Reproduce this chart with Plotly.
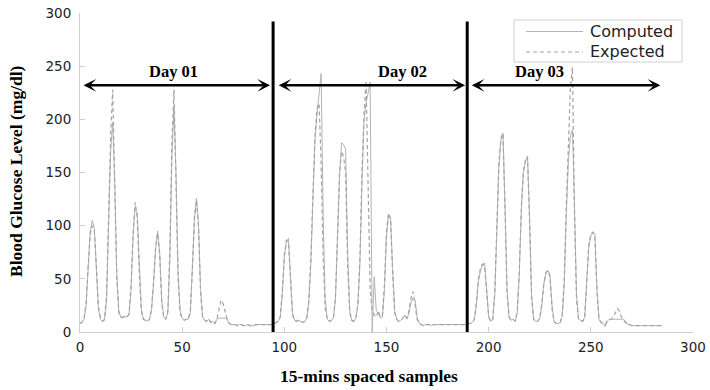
import plotly.graph_objects as go

# Blood glucose readings, one value every 15 minutes, three days in a row
day1_computed = [8, 9, 12, 25, 60, 95, 105, 98, 60, 22, 12, 10, 11, 30, 100, 170, 197, 140, 55, 20,
                 14, 13, 15, 14, 16, 40, 90, 118, 112, 60, 22, 12, 11, 10, 12, 20, 45, 78, 95, 75,
                 30, 14, 12, 18, 70, 165, 212, 150, 55, 20, 13, 11, 12, 12, 18, 55, 105, 126, 102, 40,
                 14, 11, 10, 12, 9, 10, 8, 12, 13, 13, 13, 13, 12, 8, 7, 7, 7, 6, 7, 7,
                 6, 6, 7, 6, 6, 6, 7, 7, 7, 7, 7, 7, 7, 7, 7]
day1_expected = [8, 9, 13, 28, 62, 92, 100, 96, 62, 24, 13, 10, 12, 35, 110, 185, 228, 135, 50, 18,
                 14, 14, 15, 14, 17, 45, 95, 122, 108, 55, 20, 12, 11, 10, 12, 22, 48, 80, 93, 72,
                 28, 14, 12, 20, 80, 180, 228, 140, 50, 18, 13, 11, 12, 12, 20, 58, 108, 124, 98, 38,
                 14, 11, 10, 12, 9, 10, 8, 12, 20, 30, 27, 19, 12, 8, 7, 7, 7, 6, 7, 7,
                 6, 6, 7, 6, 6, 6, 7, 7, 7, 7, 7, 7, 7, 7, 7]

day2_computed = [8, 9, 10, 14, 35, 70, 85, 88, 55, 18, 11, 10, 11, 10, 9, 10, 13, 28, 65, 125,
                 180, 205, 225, 243, 110, 30, 12, 10, 11, 13, 30, 85, 145, 178, 176, 172, 75, 20, 11, 10,
                 13, 25, 65, 140, 200, 215, 225, 235, 0, 52, 20, 18, 13, 14, 40, 90, 110, 108, 60, 20,
                 12, 10, 11, 13, 16, 12, 18, 28, 32, 30, 14, 8, 7, 6, 7, 7, 7, 6, 7, 7,
                 7, 7, 7, 7, 7, 7, 7, 7, 7, 7, 7, 7, 7, 7, 7]
day2_expected = [8, 9, 10, 14, 38, 72, 86, 85, 50, 16, 11, 10, 11, 10, 9, 10, 14, 30, 70, 130,
                 185, 210, 215, 160, 70, 22, 12, 10, 11, 13, 32, 88, 150, 170, 165, 150, 60, 18, 11, 10,
                 13, 26, 70, 150, 205, 236, 130, 40, 20, 16, 14, 20, 14, 15, 45, 95, 112, 105, 55, 18,
                 12, 10, 11, 13, 16, 13, 20, 32, 38, 25, 12, 8, 7, 6, 7, 7, 7, 6, 7, 7,
                 7, 7, 7, 7, 7, 7, 7, 7, 7, 7, 7, 7, 7, 7, 7]

day3_computed = [8, 8, 9, 12, 25, 48, 58, 63, 65, 40, 15, 10, 12, 35, 95, 155, 180, 187, 120, 40,
                 14, 11, 12, 10, 18, 55, 115, 150, 160, 165, 110, 35, 12, 10, 10, 13, 25, 45, 55, 58,
                 54, 25, 10, 8, 8, 9, 15, 45, 110, 160, 185, 190, 120, 35, 12, 11, 10, 14, 45, 80,
                 90, 94, 92, 40, 12, 9, 8, 5, 10, 12, 12, 12, 12, 12, 12, 12, 12, 10, 7, 7,
                 6, 6, 6, 6, 6, 6, 6, 6, 6, 6, 6, 6, 6, 6, 6, 6]
day3_expected = [8, 8, 9, 12, 28, 50, 60, 64, 62, 36, 14, 10, 12, 38, 100, 160, 182, 187, 115, 36,
                 14, 11, 12, 10, 20, 58, 118, 152, 162, 165, 105, 32, 12, 10, 10, 13, 26, 46, 56, 58,
                 52, 22, 10, 8, 8, 9, 16, 50, 120, 180, 230, 249, 110, 30, 12, 11, 10, 14, 48, 82,
                 92, 94, 90, 38, 12, 9, 8, 7, 10, 12, 12, 14, 18, 22, 20, 14, 11, 9, 7, 7,
                 6, 6, 6, 6, 6, 6, 6, 6, 6, 6, 6, 6, 6, 6, 6, 6]

computed = day1_computed + day2_computed + day3_computed
expected = day1_expected + day2_expected + day3_expected
samples = list(range(len(computed)))

# day boundaries (vertical separators) and the span each "Day" arrow covers
day_bounds = [94.5, 189.5]
day_labels = ["Day 01", "Day 02", "Day 03"]
day_spans = [(1, 93), (96.5, 188.5), (191, 284)]
day_label_x = [46, 158, 225]
arrow_level = 232

x_ticks = [0, 50, 100, 150, 200, 250, 300]
y_ticks = [0, 50, 100, 150, 200, 250, 300]

W, H = 710, 390
L, R, T, B = 80, 17, 13, 58
PW, PH = W - L - R, H - T - B


def px(xp):
    return (xp - L) / PW


def py(yp):
    return (H - B - yp) / PH


SERIF = "Liberation Serif"
SANS = "DejaVu Sans"
C_COMP = "#b3b3b3"
C_EXP = "#a3a3a3"

fig = go.Figure()
fig.add_trace(go.Scatter(x=samples, y=computed, name="Computed", mode="lines",
                         line=dict(color=C_COMP, width=1), showlegend=False))
fig.add_trace(go.Scatter(x=samples, y=expected, name="Expected", mode="lines",
                         line=dict(color=C_EXP, width=1.2, dash="4px,3px"), showlegend=False))

shapes = []
for xb in day_bounds:
    shapes.append(dict(type="line", xref="x", yref="y", x0=xb, x1=xb, y0=0, y1=292,
                       line=dict(color="black", width=3)))

# legend box and samples
shapes.append(dict(type="rect", xref="paper", yref="paper",
                   x0=px(514), x1=px(682), y0=py(62), y1=py(20),
                   line=dict(color="#d0d0d0", width=1), fillcolor="white", layer="above"))
shapes.append(dict(type="line", xref="paper", yref="paper",
                   x0=px(526), x1=px(583), y0=py(31.5), y1=py(31.5),
                   line=dict(color=C_COMP, width=1), layer="above"))
shapes.append(dict(type="line", xref="paper", yref="paper",
                   x0=px(526), x1=px(583), y0=py(52), y1=py(52),
                   line=dict(color=C_EXP, width=1.2, dash="4px,3px"), layer="above"))

annotations = []
for (a, b), lab, lx in zip(day_spans, day_labels, day_label_x):
    annotations.append(dict(x=b, y=arrow_level, ax=a, ay=arrow_level, xref="x", yref="y",
                            axref="x", ayref="y", text="", showarrow=True,
                            arrowhead=3, startarrowhead=3, arrowside="end+start",
                            arrowsize=0.85, startarrowsize=0.85, arrowwidth=2.5,
                            arrowcolor="black"))
    annotations.append(dict(x=lx, y=arrow_level, xref="x", yref="y", text=lab,
                            showarrow=False, yanchor="bottom", yshift=2,
                            font=dict(family=SERIF, size=16.5, color="black", weight="bold")))

annotations.append(dict(x=px(588), y=py(31.5), xref="paper", yref="paper", text="Computed",
                        showarrow=False, xanchor="left", yanchor="middle",
                        font=dict(family=SANS, size=16, color="#222")))
annotations.append(dict(x=px(588), y=py(52), xref="paper", yref="paper", text="Expected",
                        showarrow=False, xanchor="left", yanchor="middle",
                        font=dict(family=SANS, size=16, color="#222")))

annotations.append(dict(x=px(16), y=py(171), xref="paper", yref="paper",
                        text="Blood Glucose Level (mg/dl)", textangle=-90, showarrow=False,
                        xanchor="center", yanchor="middle",
                        font=dict(family=SERIF, size=17.5, color="black", weight="bold")))
annotations.append(dict(x=px(369), y=py(376), xref="paper", yref="paper",
                        text="15-mins spaced samples", showarrow=False,
                        xanchor="center", yanchor="middle",
                        font=dict(family=SERIF, size=17.5, color="black", weight="bold")))

axis_common = dict(showgrid=False, zeroline=False, showline=True, linecolor="#cfcfcf",
                   linewidth=1, ticks="inside", ticklen=5, tickcolor="#cfcfcf",
                   tickfont=dict(family=SANS, size=13.5, color="#222"), mirror=False,
                   automargin=False)

fig.update_layout(
    width=W, height=H,
    margin=dict(l=L, r=R, t=T, b=B, pad=0, autoexpand=False),
    paper_bgcolor="white", plot_bgcolor="white",
    xaxis=dict(range=[0, 300], tickvals=x_ticks, ticklabelstandoff=3, **axis_common),
    yaxis=dict(range=[0, 300], tickvals=y_ticks, ticklabelstandoff=5, **axis_common),
    shapes=shapes, annotations=annotations, showlegend=False,
)

fig.write_html("out.html")
